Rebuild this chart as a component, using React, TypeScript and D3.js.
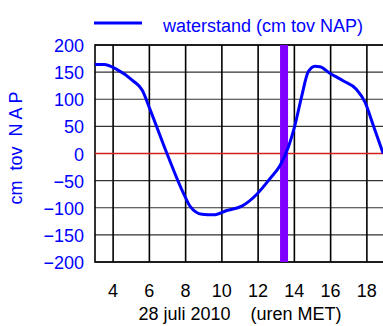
import { useRef, useEffect } from "react";
import * as d3 from "d3";

// hours (MET) on 28 July 2010 and water level in cm relative to NAP
const hours = [3.0, 3.5, 4.2, 5.1, 5.6, 6.05, 6.97, 7.89, 8.26, 8.9, 9.54, 10.27, 11.1, 11.93, 12.66, 13.21, 13.67, 14.03, 14.4, 14.77, 15.14, 15.41, 15.96, 16.69, 17.43, 17.89, 18.35, 18.9];
const levels = [164, 164, 155, 134, 117, 80, 0, -74, -98, -112, -113, -105, -97, -75, -46, -22, 12, 52, 105, 151, 161, 160, 148, 134, 118, 95, 52, 0];
const xTicks = [4, 6, 8, 10, 12, 14, 16, 18];
const yTicks = [200, 150, 100, 50, 0, -50, -100, -150, -200];
const nowHour = 13.43;

const W = 383;
const H = 326;
const margin = { left: 95, right: -2, top: 45, bottom: 64 };

export default function App() {
  const ref = useRef<SVGSVGElement>(null);

  useEffect(() => {
    if (!ref.current) return;
    const svg = d3.select(ref.current);
    svg.selectAll("*").remove();

    const x = d3.scaleLinear().domain([3, 19]).range([margin.left, W - margin.right]);
    const y = d3.scaleLinear().domain([-200, 200]).range([H - margin.bottom, margin.top]);
    const font = "'Liberation Sans', Arial, sans-serif";
    const fs = 18;

    // horizontal grid
    svg.append("g")
      .selectAll("line")
      .data(yTicks)
      .join("line")
      .attr("x1", x(3)).attr("x2", x(19))
      .attr("y1", (d) => y(d)).attr("y2", (d) => y(d))
      .attr("stroke", "#333").attr("stroke-width", 1.2);

    // vertical grid
    svg.append("g")
      .selectAll("line")
      .data(xTicks)
      .join("line")
      .attr("x1", (d) => x(d)).attr("x2", (d) => x(d))
      .attr("y1", y(200)).attr("y2", y(-200))
      .attr("stroke", "#000").attr("stroke-width", 1.6);

    // frame
    svg.append("rect")
      .attr("x", x(3)).attr("y", y(200))
      .attr("width", x(19) - x(3)).attr("height", y(-200) - y(200))
      .attr("fill", "none").attr("stroke", "#000").attr("stroke-width", 1.6);

    // zero line
    svg.append("line")
      .attr("x1", x(3)).attr("x2", x(19))
      .attr("y1", y(0)).attr("y2", y(0))
      .attr("stroke", "#d42020").attr("stroke-width", 1.4);

    // current time marker
    svg.append("rect")
      .attr("x", x(nowHour) - 4).attr("y", y(200))
      .attr("width", 8).attr("height", y(-200) - y(200))
      .attr("fill", "#8000ff");

    // water level line
    const line = d3.line<number>()
      .x((_, i) => x(hours[i]))
      .y((d) => y(d))
      .curve(d3.curveMonotoneX);
    svg.append("path")
      .datum(levels)
      .attr("d", line)
      .attr("fill", "none")
      .attr("stroke", "#0000ff")
      .attr("stroke-width", 3)
      .attr("stroke-linejoin", "round");

    // y tick labels
    svg.append("g")
      .selectAll("text")
      .data(yTicks)
      .join("text")
      .attr("x", 84).attr("y", (d) => y(d) + 7)
      .attr("text-anchor", "end")
      .attr("font-family", font).attr("font-size", fs)
      .attr("fill", "#0000ff")
      .text((d) => (d < 0 ? "\u2212" + Math.abs(d) : String(d)));

    // x tick labels
    svg.append("g")
      .selectAll("text")
      .data(xTicks)
      .join("text")
      .attr("x", (d) => x(d)).attr("y", 297)
      .attr("text-anchor", "middle")
      .attr("font-family", font).attr("font-size", fs)
      .attr("fill", "#000")
      .text((d) => d);

    // x title
    svg.append("text")
      .attr("x", 240).attr("y", 320)
      .attr("text-anchor", "middle")
      .attr("font-family", font).attr("font-size", fs)
      .attr("fill", "#000")
      .style("white-space", "pre")
      .text("28 juli 2010    (uren MET)");

    // y title
    svg.append("text")
      .attr("transform", `translate(22, 148) rotate(-90)`)
      .attr("text-anchor", "middle")
      .attr("font-family", font).attr("font-size", fs)
      .attr("fill", "#0000ff")
      .style("white-space", "pre")
      .text("cm  tov  N A P");

    // legend
    svg.append("line")
      .attr("x1", 94).attr("x2", 142)
      .attr("y1", 23).attr("y2", 23)
      .attr("stroke", "#0000ff").attr("stroke-width", 3);
    svg.append("text")
      .attr("x", 163).attr("y", 32)
      .attr("font-family", font).attr("font-size", fs)
      .attr("fill", "#0000ff")
      .text("waterstand (cm tov NAP)");
  }, []);

  return (
    <svg
      ref={ref}
      width={W}
      height={H}
      style={{ position: "absolute", left: 0, top: 0, background: "#fff" }}
    />
  );
}
